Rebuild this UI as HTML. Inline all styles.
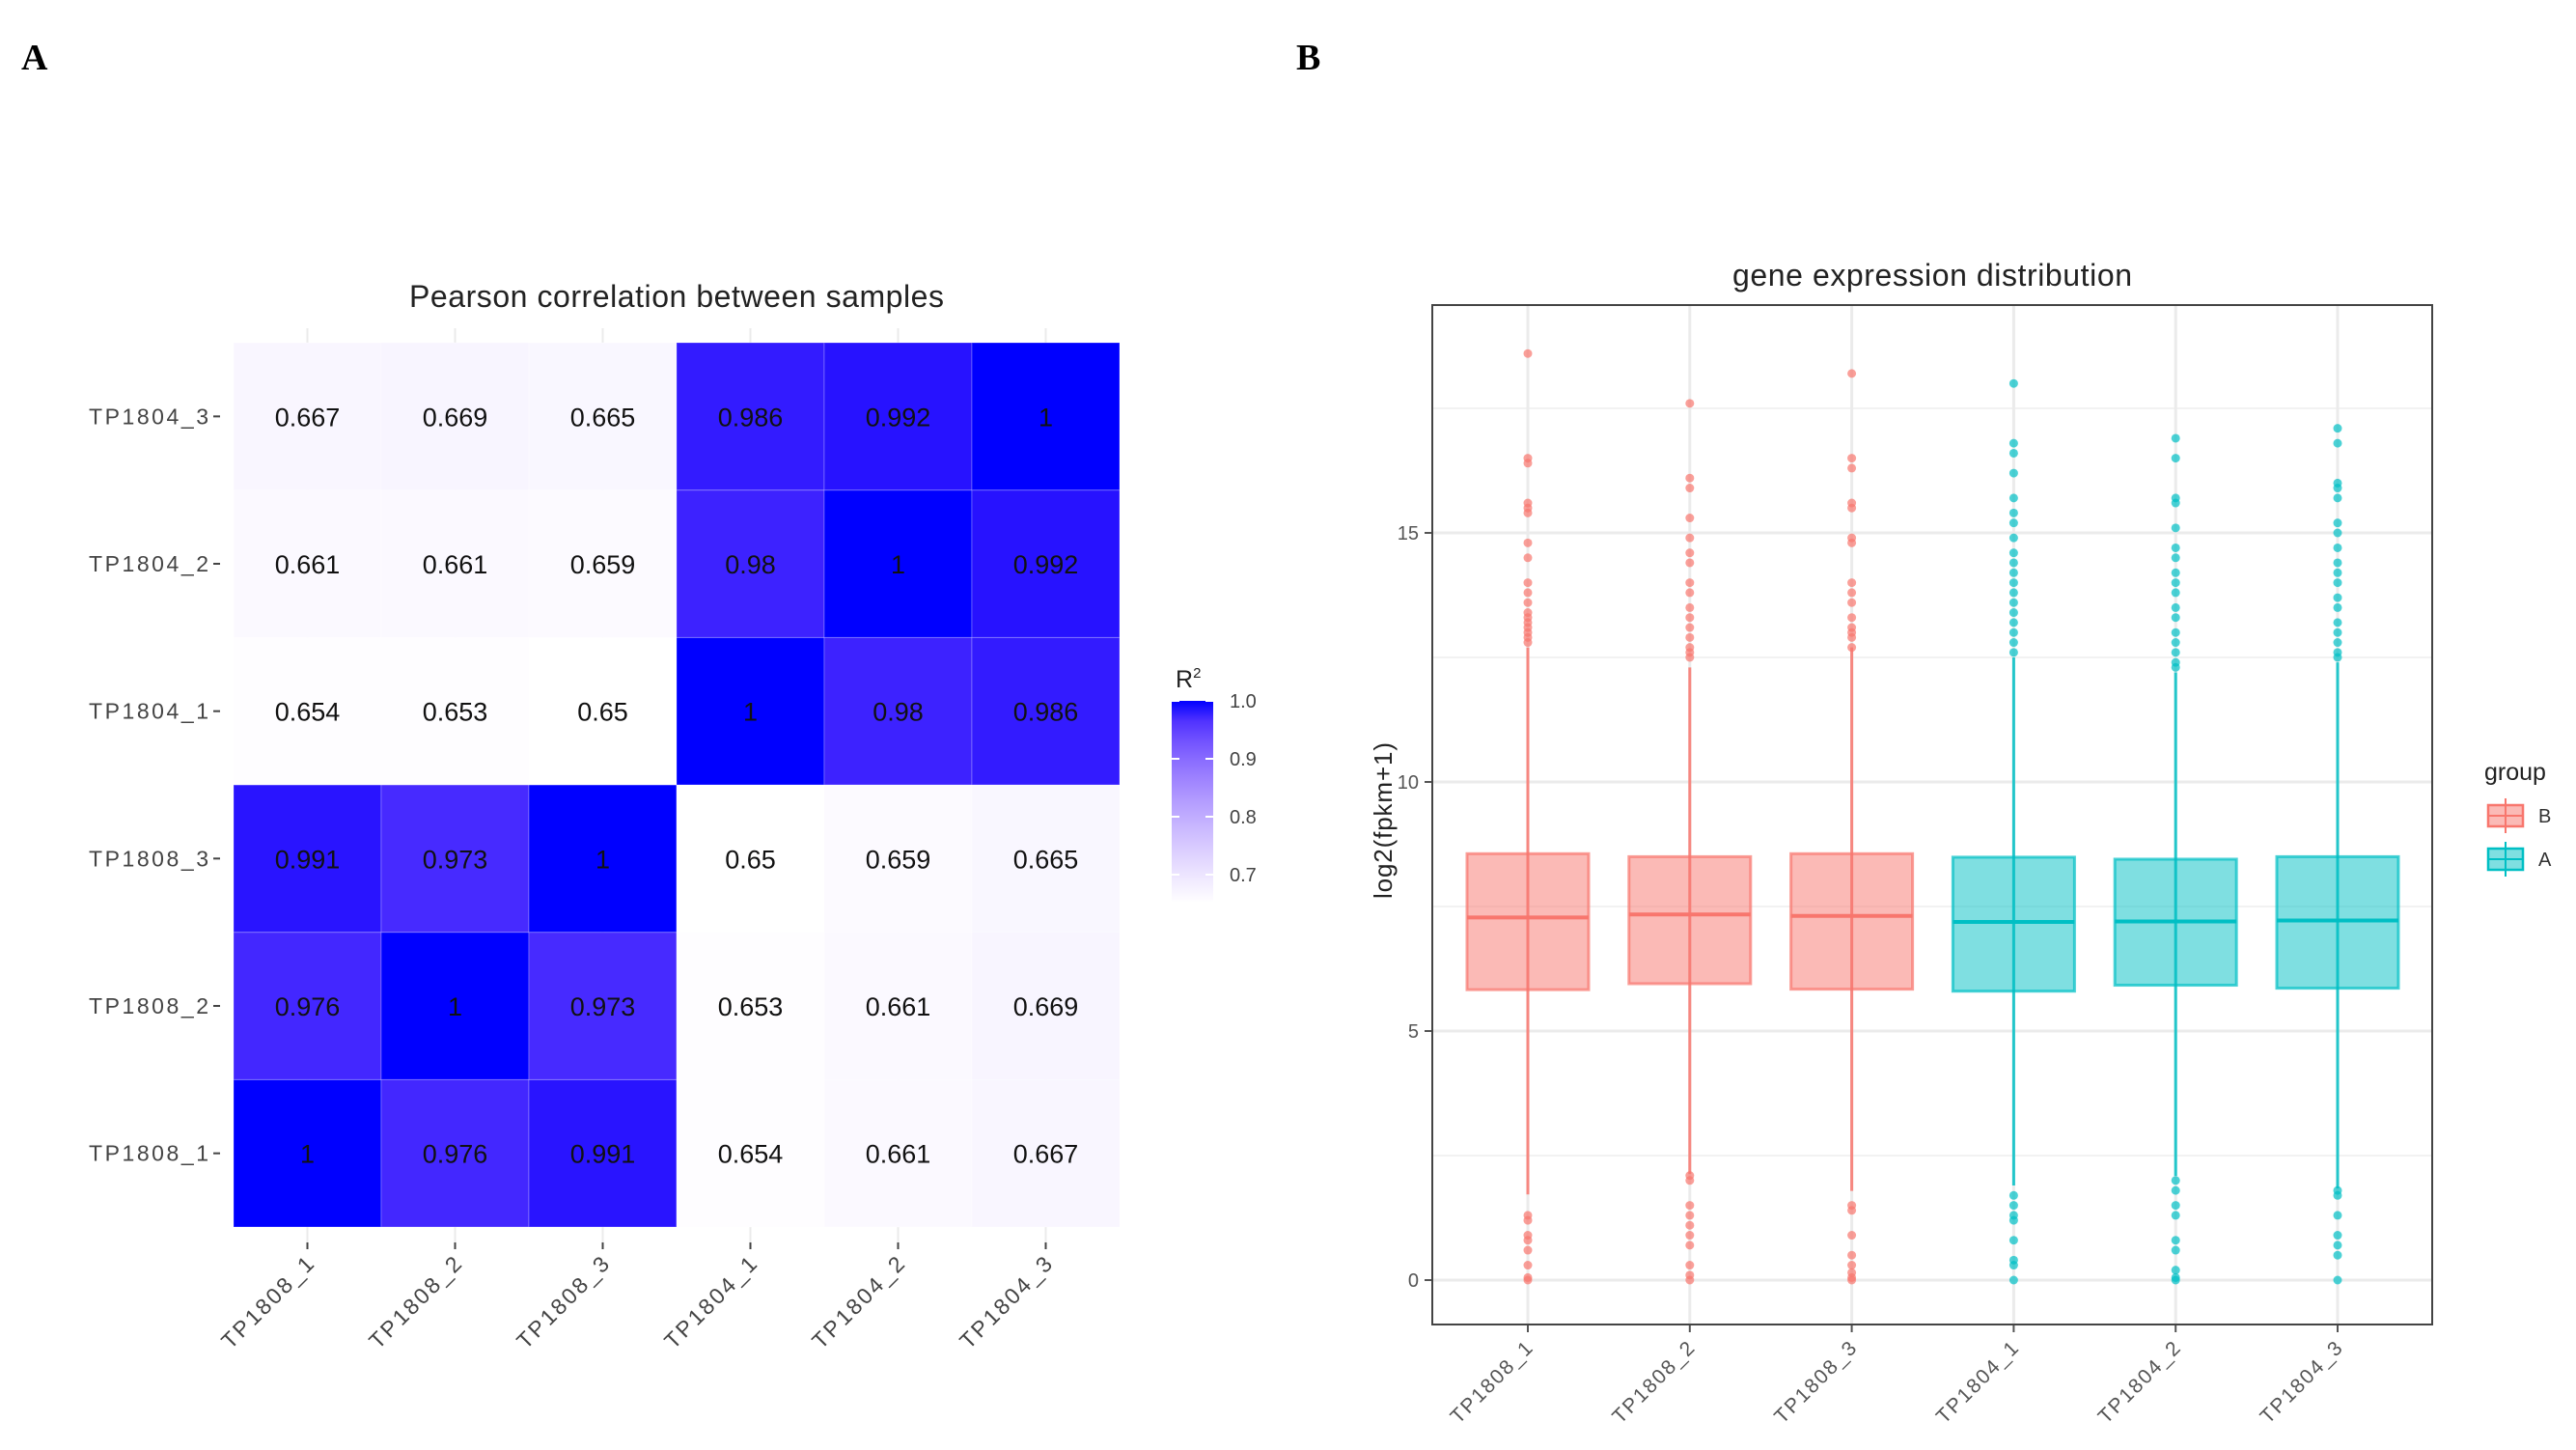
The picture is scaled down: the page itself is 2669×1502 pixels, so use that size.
<!DOCTYPE html>
<html><head><meta charset="utf-8"><style>
body{margin:0;background:#fff}
svg{display:block;font-family:"Liberation Sans",Arial,sans-serif}
</style></head><body>
<svg id="fig" width="2669" height="1502" viewBox="0 0 2669 1502">
<text x="22" y="72" font-family="Liberation Serif,serif" font-weight="bold" font-size="38">A</text>
<text x="1343" y="72" font-family="Liberation Serif,serif" font-weight="bold" font-size="38">B</text>
<g id="heat"></g>
<g id="box"></g>
</svg>
<script>
const samples = ["TP1808_1","TP1808_2","TP1808_3","TP1804_1","TP1804_2","TP1804_3"];
const corrRow1 = [1,0.976,0.991,0.654,0.661,0.667];
const corrRow2 = [0.976,1,0.973,0.653,0.661,0.669];
const corrRow3 = [0.991,0.973,1,0.65,0.659,0.665];
const corrRow4 = [0.654,0.653,0.65,1,0.98,0.986];
const corrRow5 = [0.661,0.661,0.659,0.98,1,0.992];
const corrRow6 = [0.667,0.669,0.665,0.986,0.992,1];
const corrRows = [corrRow1,corrRow2,corrRow3,corrRow4,corrRow5,corrRow6];
const legendTicks = [1.0,0.9,0.8,0.7];

const groups = ["B","B","B","A","A","A"];
const q1 = [5.83,5.95,5.84,5.80,5.92,5.86];
const med = [7.28,7.34,7.31,7.19,7.20,7.22];
const q3 = [8.56,8.50,8.56,8.49,8.45,8.50];
const whLo = [1.72,2.13,1.79,1.90,2.09,1.84];
const whHi = [12.7,12.3,12.7,12.5,12.2,12.4];
const out1 = [18.6,16.5,16.4,15.6,15.5,15.4,14.8,14.5,14.0,13.8,13.6,13.4,13.3,13.2,13.1,13.0,12.9,12.8,1.3,1.2,0.9,0.8,0.6,0.3,0.05,0];
const out2 = [17.6,16.1,15.9,15.3,14.9,14.6,14.4,14.0,13.8,13.5,13.3,13.1,12.9,12.7,12.6,12.5,2.1,2.0,1.5,1.3,1.1,0.9,0.7,0.3,0.1,0];
const out3 = [18.2,16.5,16.3,15.6,15.5,14.9,14.8,14.0,13.8,13.6,13.3,13.1,13.0,12.9,12.7,1.5,1.4,0.9,0.5,0.3,0.15,0.05,0];
const out4 = [18.0,16.8,16.6,16.2,15.7,15.4,15.2,14.9,14.6,14.4,14.2,14.0,13.8,13.6,13.4,13.2,13.0,12.8,12.6,1.7,1.5,1.3,1.2,0.8,0.4,0.3,0];
const out5 = [16.9,16.5,15.7,15.6,15.1,14.7,14.5,14.2,14.0,13.8,13.5,13.3,13.0,12.8,12.6,12.4,12.3,2.0,1.8,1.5,1.3,0.8,0.6,0.2,0.05,0];
const out6 = [17.1,16.8,16.0,15.9,15.7,15.2,15.0,14.7,14.4,14.2,14.0,13.7,13.5,13.2,13.0,12.8,12.6,12.5,1.8,1.7,1.3,0.9,0.7,0.5,0];
const outliers = [out1,out2,out3,out4,out5,out6];
const yTicks = [0,5,10,15];

const NS="http://www.w3.org/2000/svg";
function el(tag, attrs, parent, txt){const e=document.createElementNS(NS,tag);for(const k in attrs)e.setAttribute(k,attrs[k]);if(txt!==undefined)e.textContent=txt;parent.appendChild(e);return e;}

// ---------- heatmap ----------
const H=document.getElementById('heat');
const hx0=242,hx1=1160,hy0=355,hy1=1271;
const cw=(hx1-hx0)/6,ch=(hy1-hy0)/6;
function colX(i){return hx0+i*cw;}
function rowY(j){return hy1-(j+1)*ch;}
function heatColor(v){let t=(v-0.65)/0.35;t=Math.max(0,Math.min(1,t));const r=Math.round(255*Math.pow(1-t,0.5)),g=Math.round(255*Math.pow(1-t,0.7));return `rgb(${r},${g},255)`;}
let t=el('text',{x:(hx0+hx1)/2,y:318,'text-anchor':'middle','font-size':32,fill:'#222',textLength:554},H,'Pearson correlation between samples');


for(let i=0;i<6;i++){
  const gl=el('line',{x1:colX(i)+cw/2,x2:colX(i)+cw/2,y1:340,y2:hy1+16,stroke:'#ebebeb','stroke-width':2},H);
  
  
}
for(let j=0;j<6;j++){
  for(let i=0;i<6;i++){
    const v=corrRows[j][i];
    const r=el('rect',{x:colX(i),y:rowY(j),width:cw,height:ch,fill:heatColor(v),stroke:'rgba(255,255,255,0.25)','stroke-width':1},H);
    
    
    const tx=el('text',{x:colX(i)+cw/2,y:rowY(j)+ch/2+10,'text-anchor':'middle','font-size':27,fill:'#111'},H,String(v));
    
    
  }
  const yl=el('text',{x:216,y:rowY(j)+ch/2+8,'text-anchor':'end','font-size':23,fill:'#444',textLength:124},H,samples[j]);
  
  
  const yt=el('line',{x1:221,x2:228,y1:rowY(j)+ch/2,y2:rowY(j)+ch/2,stroke:'#444','stroke-width':2},H);
  
  
}
for(let i=0;i<6;i++){
  const cx=colX(i)+cw/2;
  const xt=el('line',{x1:cx,x2:cx,y1:hy1+16,y2:hy1+23,stroke:'#444','stroke-width':2},H);
  
  
  const xl=el('text',{x:cx+8,y:hy1+40,'text-anchor':'end','font-size':23,fill:'#444',textLength:124,transform:`rotate(-45 ${cx+8} ${hy1+40})`},H,samples[i]);
  
  
}
const defs=el('defs',{},H);
const lg=el('linearGradient',{id:'lg',x1:0,y1:1,x2:0,y2:0},defs);
for(let k=0;k<=10;k++){const v=0.654+k*(1-0.654)/10;el('stop',{offset:k/10,'stop-color':heatColor(v)},lg);}
const lyAt=v=>726+(1-v)*600;
const lb=el('rect',{x:1214,y:lyAt(1),width:43,height:lyAt(0.654)-lyAt(1),fill:'url(#lg)'},H);


const lt=el('text',{x:1218,y:712,'font-size':25,fill:'#222'},H,'R');


el('tspan',{dy:-10,'font-size':15},lt,'2');
legendTicks.forEach(v=>{
  const l=el('text',{x:1274,y:lyAt(v)+7,'font-size':20,fill:'#444'},H,v.toFixed(1));
  
  
  el('line',{x1:1214,x2:1222,y1:lyAt(v),y2:lyAt(v),stroke:'#fff','stroke-width':2},H);
  el('line',{x1:1249,x2:1257,y1:lyAt(v),y2:lyAt(v),stroke:'#fff','stroke-width':2},H);
});

// ---------- boxplot ----------
const B=document.getElementById('box');
const px0=1484,px1=2520,py0=316,py1=1372;
const yS=v=>1326-v*51.6;
const xS=i=>1583+i*167.8;
const bw=126;
const col={B:'#F8766D',A:'#00BFC4'};
const bt=el('text',{x:(px0+px1)/2,y:296,'text-anchor':'middle','font-size':32,fill:'#222',textLength:414},B,'gene expression distribution');


for(let v=-2.5;v<=20;v+=5){if(yS(v)>py0&&yS(v)<py1){el('line',{x1:px0,x2:px1,y1:yS(v),y2:yS(v),stroke:'#f2f2f2','stroke-width':2},B);}}
yTicks.forEach(v=>{
  const g=el('line',{x1:px0,x2:px1,y1:yS(v),y2:yS(v),stroke:'#ebebeb','stroke-width':3},B);
  
  
  const tl=el('text',{x:px0-14,y:yS(v)+7,'text-anchor':'end','font-size':20,fill:'#555'},B,String(v));
  
  
  el('line',{x1:px0-8,x2:px0,y1:yS(v),y2:yS(v),stroke:'#555','stroke-width':2},B);
});
samples.forEach((s,i)=>{
  const g=el('line',{x1:xS(i),x2:xS(i),y1:py0,y2:py1,stroke:'#ebebeb','stroke-width':3},B);
  
  
});
samples.forEach((s,i)=>{
  const c=col[groups[i]],x=xS(i);
  const w=el('line',{x1:x,x2:x,y1:yS(whHi[i]),y2:yS(whLo[i]),stroke:c,'stroke-width':3,'stroke-opacity':0.85},B);
  
  
  const r=el('rect',{x:x-bw/2,y:yS(q3[i]),width:bw,height:yS(q1[i])-yS(q3[i]),fill:c,'fill-opacity':0.5,stroke:c,'stroke-width':3,'stroke-opacity':0.7},B);
  
  
  const m=el('line',{x1:x-bw/2,x2:x+bw/2,y1:yS(med[i]),y2:yS(med[i]),stroke:c,'stroke-width':4},B);
  
  
  outliers[i].forEach(v=>{
    const p=el('circle',{cx:x,cy:yS(v),r:4.5,fill:c,'fill-opacity':0.7},B);
    
    
  });
  el('line',{x1:x,x2:x,y1:py1,y2:py1+8,stroke:'#555','stroke-width':2},B);
  const xl=el('text',{x:x+6,y:py1+26,'text-anchor':'end','font-size':21,fill:'#555',textLength:110,transform:`rotate(-45 ${x+6} ${py1+26})`},B,s);
  
  
});
const fr=el('rect',{x:px0,y:py0,width:px1-px0,height:py1-py0,fill:'none',stroke:'#444','stroke-width':2},B);


const yt=el('text',{x:1442,y:850,'text-anchor':'middle','font-size':26,fill:'#222',textLength:162,transform:'rotate(-90 1442 850)'},B,'log2(fpkm+1)');


const gt=el('text',{x:2574,y:808,'font-size':25,fill:'#222'},B,'group');


[["B",845],["A",890]].forEach(([k,y])=>{
  const c=col[k];
  el('line',{x1:2596,x2:2596,y1:y-18,y2:y+18,stroke:c,'stroke-width':2},B);
  const r=el('rect',{x:2578,y:y-11,width:36,height:22,fill:c,'fill-opacity':0.5,stroke:c,'stroke-width':2.5},B);
  
  
  el('line',{x1:2578,x2:2614,y1:y,y2:y,stroke:c,'stroke-width':2},B);
  const l=el('text',{x:2630,y:y+7,'font-size':20,fill:'#333'},B,k);
  
  
});
</script>
</body></html>
